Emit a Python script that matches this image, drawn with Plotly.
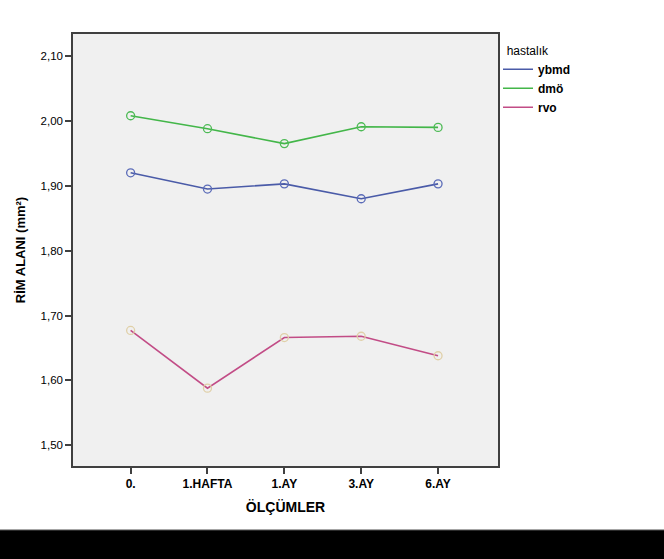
import plotly.graph_objects as go

categories = ["0.", "1.HAFTA", "1.AY", "3.AY", "6.AY"]
ybmd = [1.920, 1.895, 1.903, 1.880, 1.903]
dmo = [2.008, 1.988, 1.965, 1.991, 1.990]
rvo = [1.677, 1.588, 1.666, 1.668, 1.638]
series_names = ["ybmd", "dmö", "rvo"]
series_values = [ybmd, dmo, rvo]
line_colors = ["#4A5BA8", "#43B649", "#C24C86"]
marker_colors = ["#5A6BB8", "#4DBA55", "#E0D0A8"]
ytick_vals = [1.50, 1.60, 1.70, 1.80, 1.90, 2.00, 2.10]

fig = go.Figure()
xidx = list(range(len(categories)))
for name, vals, lc, mc in zip(series_names, series_values, line_colors, marker_colors):
    fig.add_trace(go.Scatter(
        x=xidx, y=vals, mode="lines", name=name,
        line=dict(color=lc, width=1.6), legendgroup=name,
    ))
    fig.add_trace(go.Scatter(
        x=xidx, y=vals, mode="markers", showlegend=False, legendgroup=name,
        marker=dict(symbol="circle-open", size=8, color=mc, line=dict(width=1.3, color=mc)),
        hoverinfo="skip",
    ))

fig.update_layout(
    width=664, height=559,
    margin=dict(l=73, r=166, t=34, b=93),
    paper_bgcolor="white",
    plot_bgcolor="#F0F0F0",
    separators=",.",
    font=dict(family="Liberation Sans, Arial, sans-serif", size=11, color="black"),
    xaxis=dict(
        tickmode="array", tickvals=xidx, ticktext=["<b>%s</b>" % c for c in categories],
        range=[-0.75, 4.78],
        showgrid=False, zeroline=False,
        showline=True, linecolor="#404040", linewidth=1.5, mirror=True,
        ticks="outside", ticklen=6, tickcolor="#404040", tickwidth=1.5,
        tickfont=dict(size=12),
        title=dict(text="<b>ÖLÇÜMLER</b>", font=dict(size=14), standoff=12),
    ),
    yaxis=dict(
        tickmode="array", tickvals=ytick_vals, tickformat=".2f",
        range=[1.468, 2.134],
        showgrid=False, zeroline=False,
        showline=True, linecolor="#404040", linewidth=1.5, mirror=True,
        ticks="outside", ticklen=6, tickcolor="#404040", tickwidth=1.5,
        tickfont=dict(size=11.5),
        title=dict(text="<b>RİM ALANI (mm²)</b>", font=dict(size=13), standoff=12),
    ),
    legend=dict(
        x=1.0, xanchor="left", y=0.988, yanchor="top",
        title=dict(text="&nbsp;&nbsp;hastalık", font=dict(size=12, weight="normal")),
        font=dict(size=12, color="black", weight="bold"),
        bgcolor="rgba(0,0,0,0)", tracegroupgap=0, itemwidth=30,
    ),
    shapes=[
        dict(type="rect", xref="paper", yref="paper", x0=-0.3, x1=1.5, y0=-0.148, y1=-0.3,
             fillcolor="black", line=dict(color="#666666", width=1), layer="above"),
    ],
)

fig.write_html("out.html")
